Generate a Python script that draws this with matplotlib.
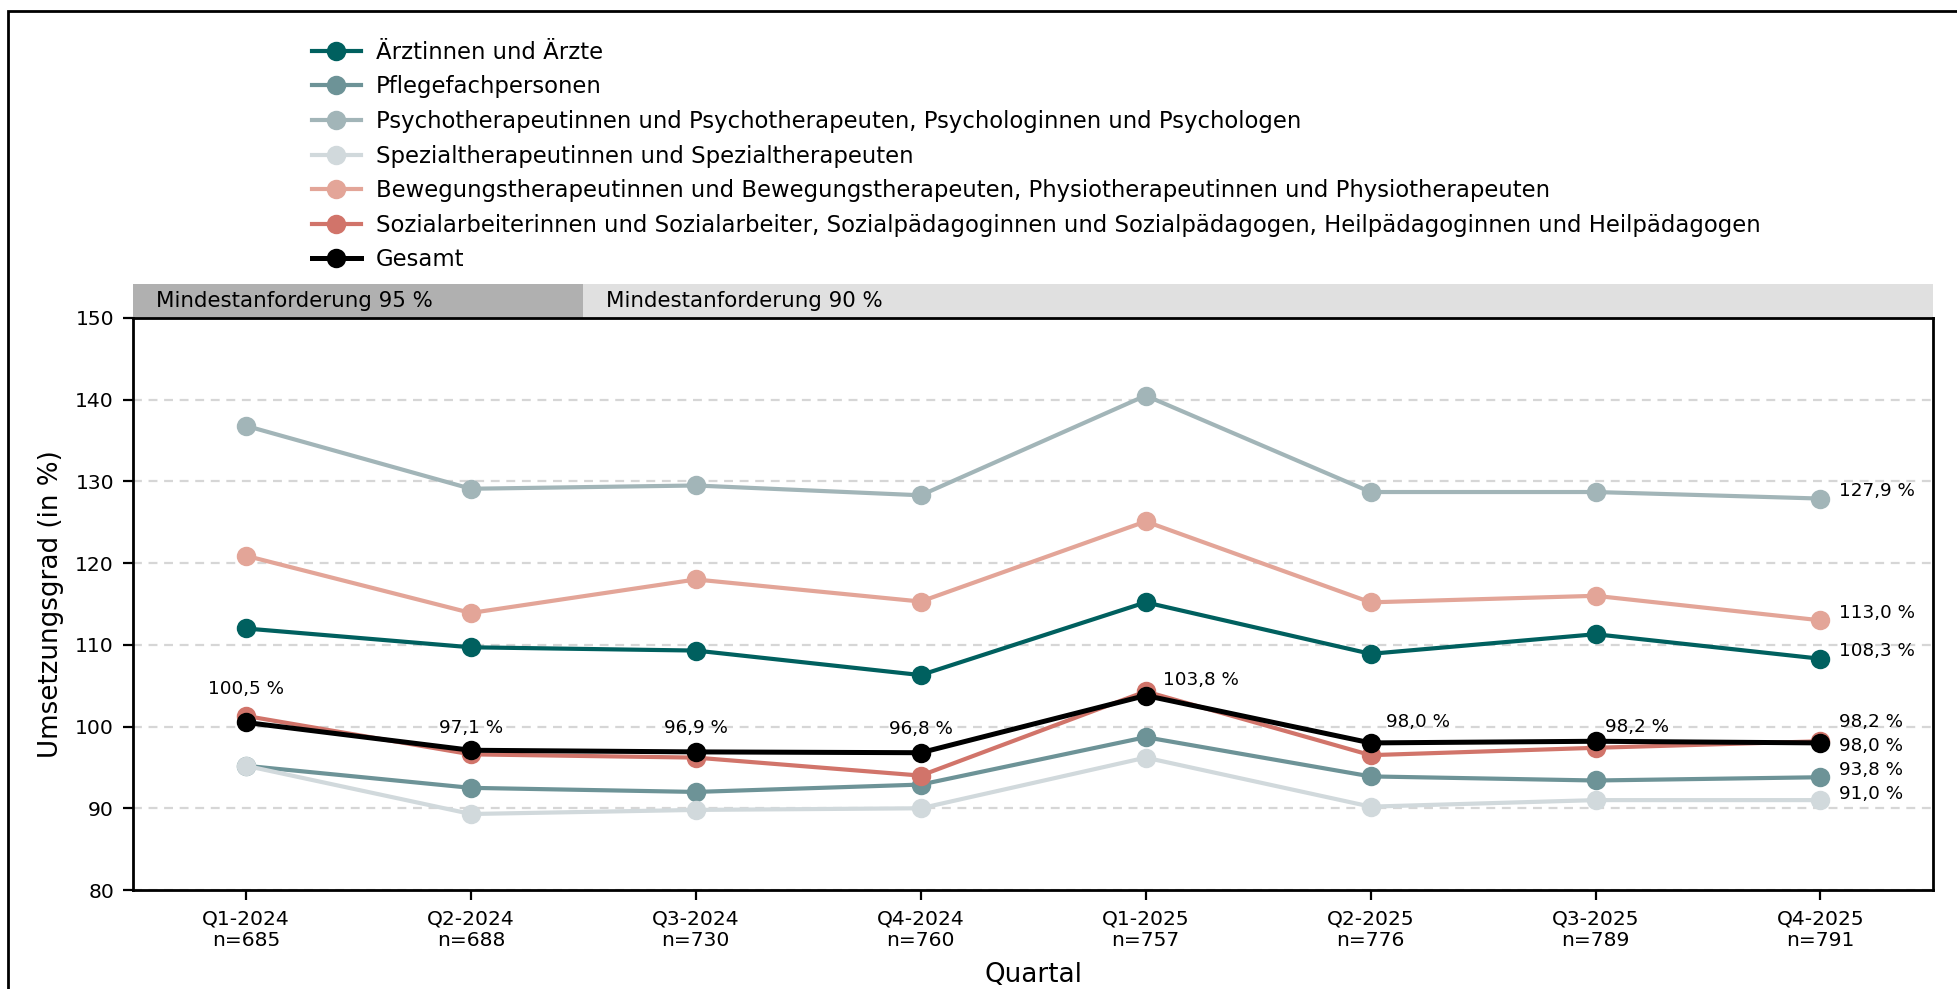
import matplotlib
matplotlib.use("Agg")
import matplotlib.pyplot as plt
from matplotlib.patches import Rectangle

# --- data ---------------------------------------------------------------
quarters = ["Q1-2024", "Q2-2024", "Q3-2024", "Q4-2024",
            "Q1-2025", "Q2-2025", "Q3-2025", "Q4-2025"]
n_values = [685, 688, 730, 760, 757, 776, 789, 791]

aerzte = [112.0, 109.7, 109.3, 106.3, 115.2, 108.9, 111.3, 108.3]
pflege = [95.2, 92.5, 92.0, 92.9, 98.7, 93.9, 93.4, 93.8]
psycho = [136.8, 129.1, 129.5, 128.3, 140.5, 128.7, 128.7, 127.9]
spezial = [95.2, 89.3, 89.8, 90.0, 96.2, 90.2, 91.0, 91.0]
bewegung = [120.9, 113.9, 118.0, 115.3, 125.1, 115.2, 116.0, 113.0]
sozial = [101.3, 96.6, 96.2, 94.0, 104.3, 96.5, 97.4, 98.2]
gesamt = [100.5, 97.1, 96.9, 96.8, 103.8, 98.0, 98.2, 98.0]

labels = [
    "Ärztinnen und Ärzte",
    "Pflegefachpersonen",
    "Psychotherapeutinnen und Psychotherapeuten, Psychologinnen und Psychologen",
    "Spezialtherapeutinnen und Spezialtherapeuten",
    "Bewegungstherapeutinnen und Bewegungstherapeuten, Physiotherapeutinnen und Physiotherapeuten",
    "Sozialarbeiterinnen und Sozialarbeiter, Sozialpädagoginnen und Sozialpädagogen, Heilpädagoginnen und Heilpädagogen",
    "Gesamt",
]
series = [aerzte, pflege, psycho, spezial, bewegung, sozial, gesamt]
colors = ["#00605f", "#6d9397", "#a2b5b8", "#d1d9dc", "#e3a598", "#d1746a", "#000000"]

# requirement bands: (first quarter index, last quarter index, text)
bands = [(0, 1, "Mindestanforderung 95 %"), (2, 7, "Mindestanforderung 90 %")]
band_colors = ["#b0b0b0", "#e0e0e0"]

# offsets (points) for the Gesamt labels except the last quarter
gesamt_offsets = [(0, 12), (0, 8), (0, 8.5), (0, 8.5), (20, 5.5), (17, 7.5), (15, 5)]


def fmt(v):
    return f"{v:.1f}".replace(".", ",") + " %"


def spread(values, gap, iters=200):
    """push label positions apart so neighbours keep a minimum gap"""
    order = sorted(range(len(values)), key=lambda i: values[i])
    ys = [values[i] for i in order]
    for _ in range(iters):
        for i in range(len(ys) - 1):
            d = ys[i + 1] - ys[i]
            if d < gap:
                shift = (gap - d) / 2
                ys[i] -= shift
                ys[i + 1] += shift
    out = [0] * len(values)
    for k, i in enumerate(order):
        out[i] = ys[k]
    return out


fig = plt.figure(figsize=(9.785, 4.945), dpi=200)
ax = fig.add_axes([0.0682, 0.1001, 0.9195, 0.5784])

x = list(range(len(quarters)))
for vals, col, lab in zip(series, colors, labels):
    lw = 1.8 if lab == "Gesamt" else 1.5
    ax.plot(x, vals, color=col, lw=lw, marker="o", markersize=6, label=lab,
            zorder=4 if lab == "Gesamt" else 3)

ax.set_xlim(-0.5, len(quarters) - 0.5)
ax.set_ylim(80, 150)
ax.set_yticks(range(80, 151, 10))
ax.set_xticks(x)
ax.set_xticklabels([f"{q}\nn={n}" for q, n in zip(quarters, n_values)])
ax.tick_params(labelsize=7.3, width=0.8)
ax.yaxis.grid(True, linestyle="--", color="#d6d6d6", lw=0.8, dashes=(4, 3))
ax.set_axisbelow(True)
for s in ax.spines.values():
    s.set_linewidth(1.0)
ax.set_ylabel("Umsetzungsgrad (in %)", fontsize=9.4)
ax.set_xlabel("Quartal", fontsize=9.4, labelpad=4)

# bands above the plot
trans = ax.get_xaxis_transform()
for (i0, i1, txt), bc in zip(bands, band_colors):
    ax.add_patch(Rectangle((i0 - 0.5, 1.0), i1 - i0 + 1, 0.0586, transform=trans,
                           facecolor=bc, edgecolor="none", clip_on=False))
    ax.text(i0 - 0.5 + 0.1, 1.0293, txt, transform=trans, fontsize=7.7,
            va="center", ha="left")

# Gesamt labels
for i, (v, (dx, dy)) in enumerate(zip(gesamt[:-1], gesamt_offsets)):
    ax.annotate(fmt(v), (i, v), xytext=(dx, dy), textcoords="offset points",
                ha="center", va="center", fontsize=6.6, zorder=6)

# end labels at the last quarter
last = len(quarters) - 1
end_vals = [s[-1] for s in series]
end_pos = spread([v + 0.9 for v in end_vals], 2.9)
for v, yp in zip(end_vals, end_pos):
    ax.annotate(fmt(v), (last, yp), xytext=(6.7, 0), textcoords="offset points",
                ha="left", va="center", fontsize=6.6, zorder=6)

fig.legend(loc="upper left", bbox_to_anchor=(0.1594, 0.9588), frameon=False,
           fontsize=8.2, handlelength=2.14, handletextpad=0.66,
           labelspacing=0.51, borderpad=0, borderaxespad=0)

# frame around the figure
fig.patches.append(Rectangle((8 / 1957, -0.1), 1.2, 1.1 - 10.5 / 989,
                             transform=fig.transFigure, fill=False,
                             edgecolor="black", lw=1.0))

fig.savefig("out.png", dpi=200, facecolor="white")
